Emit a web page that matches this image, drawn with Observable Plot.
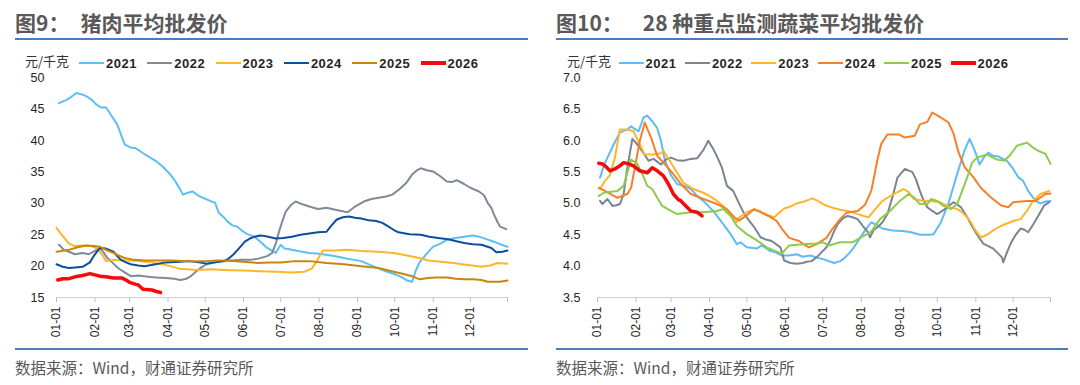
<!DOCTYPE html>
<html><head><meta charset="utf-8">
<script src="https://cdn.jsdelivr.net/npm/d3@7"></script>
<script src="https://cdn.jsdelivr.net/npm/@observablehq/plot@0.6"></script>
<style>
body{margin:0;background:#fff;width:1080px;height:385px;position:relative;overflow:hidden;font-family:"Noto Sans CJK SC","Noto Sans",sans-serif;}
.title{position:absolute;top:9px;font-size:21px;font-weight:bold;color:#595959;line-height:26px;white-space:nowrap;}
.rule{position:absolute;height:2px;background:#4a7ebb;}
.unit{position:absolute;top:52px;font-size:13px;color:#333;line-height:18px;white-space:nowrap;}
.leg{position:absolute;top:54px;height:18px;display:flex;align-items:center;font-family:"Liberation Sans",Arial,sans-serif;font-size:13px;font-weight:bold;color:#262626;letter-spacing:0.5px;white-space:nowrap;}
.sw{width:25px;margin-right:2px;}
.src{position:absolute;top:356px;font-size:15.5px;color:#595959;line-height:22px;white-space:nowrap;}
.chart{position:absolute;top:70px;}
</style></head><body>
<div class="title" style="left:15px"><span>图9：</span><span style="margin-left:11px">猪肉平均批发价</span></div>
<div class="rule" style="left:15px;top:38px;width:513px"></div>
<div class="title" style="left:556px"><span>图10：</span><span style="margin-left:20px">28 种重点监测蔬菜平均批发价</span></div>
<div class="rule" style="left:556px;top:38px;width:512px"></div>
<div class="unit" style="left:25px">元/千克</div>
<div class="unit" style="left:567px">元/千克</div>
<div id="legL"></div><div id="legR"></div>
<div class="chart" id="chartL" style="left:0px"></div>
<div class="chart" id="chartR" style="left:540px"></div>
<div class="rule" style="left:15px;top:348px;width:513px;height:1.5px"></div>
<div class="rule" style="left:556px;top:348px;width:512px;height:1.5px"></div>
<div class="src" style="left:15px">数据来源：Wind，财通证券研究所</div>
<div class="src" style="left:556px">数据来源：Wind，财通证券研究所</div>
<script>
// ---------- data ----------
const years = ["2021","2022","2023","2024","2025","2026"];
const tickDays = [0,31,59,90,120,151,181,212,243,273,304,334,364];
const tickLabels = ["01-01","02-01","03-01","04-01","05-01","06-01","07-01","08-01","09-01","10-01","11-01","12-01",""];
const porkTicks = [15,20,25,30,35,40,45,50];
const vegTicks = [3.5,4.0,4.5,5.0,5.5,6.0,6.5,7.0];
const porkColors = ["#5cbff6","#7f8b98","#fbb72a","#0d4e9e","#c8870c","#f50a0a"];
const vegColors = ["#5cbcf5","#7a8591","#fdb62c","#f67f2b","#8ecb4c","#f50a0a"];

// 猪肉平均批发价 [day of year, 元/千克]
const pork2021 = [[2,46.0],[8,46.5],[12,47.0],[16,47.6],[20,47.4],[24,47.1],[28,46.6],[32,45.8],[36,45.3],[40,45.3],[44,44.1],[49,42.6],[52,41.0],[55,39.4],[60,38.9],[64,38.8],[70,38.0],[74,37.5],[80,36.8],[85,36.0],[88,35.4],[92,34.6],[96,33.5],[100,32.2],[102,31.4],[106,31.7],[110,31.9],[114,31.3],[118,30.9],[124,30.4],[128,30.1],[131,28.5],[135,27.8],[138,27.1],[142,26.5],[146,26.3],[150,25.6],[154,25.1],[160,24.7],[165,23.8],[170,22.9],[177,22.1],[181,23.4],[184,22.8],[188,22.7],[195,22.4],[204,22.1],[210,22.0],[215,21.9],[224,21.6],[232,21.3],[240,21.0],[246,20.8],[253,20.2],[260,19.6],[267,19.1],[273,18.7],[279,18.2],[283,17.7],[287,17.5],[290,19.3],[293,20.6],[298,21.8],[304,23.1],[310,23.6],[315,24.2],[322,24.5],[329,24.7],[336,24.9],[341,24.7],[347,24.3],[353,23.9],[358,23.5],[364,23.1]];
const pork2022 = [[2,23.4],[6,22.6],[10,22.3],[15,21.9],[21,22.1],[26,21.9],[30,22.3],[35,22.9],[38,22.2],[41,21.3],[44,20.8],[48,20.0],[51,19.5],[55,19.0],[60,18.4],[66,18.5],[74,18.3],[80,18.2],[88,18.1],[95,18.0],[100,17.8],[105,18.0],[109,18.5],[113,19.2],[117,19.8],[121,20.3],[128,20.6],[135,20.8],[142,20.9],[149,21.0],[156,21.0],[163,21.2],[170,21.6],[174,22.1],[177,23.6],[179,25.1],[182,27.0],[185,28.7],[189,29.7],[193,30.3],[198,29.9],[204,29.5],[211,29.1],[218,29.3],[225,29.0],[232,28.7],[235,28.6],[241,29.5],[248,30.3],[254,30.7],[260,30.9],[266,31.1],[271,31.4],[277,32.3],[282,33.2],[287,34.6],[291,35.3],[294,35.6],[299,35.3],[304,35.1],[310,34.3],[315,33.5],[319,33.4],[323,33.7],[329,33.1],[334,32.5],[341,31.9],[345,31.3],[348,30.1],[351,29.3],[353,28.3],[356,27.0],[358,26.3],[363,25.9]];
const pork2023 = [[0,26.1],[3,25.3],[6,24.6],[10,23.6],[15,23.2],[21,23.3],[28,23.2],[33,22.8],[37,21.8],[40,20.8],[46,21.0],[56,20.9],[66,20.8],[76,20.6],[85,20.3],[92,20.0],[99,19.6],[113,19.4],[125,19.5],[135,19.4],[150,19.3],[163,19.2],[178,19.1],[190,19.0],[200,19.1],[206,19.6],[210,20.8],[215,22.5],[225,22.5],[235,22.6],[246,22.4],[260,22.3],[272,22.1],[283,21.7],[293,21.3],[300,20.9],[310,20.7],[320,20.5],[332,20.2],[343,19.9],[350,20.1],[356,20.5],[364,20.4]];
const pork2024 = [[0,20.3],[5,19.9],[10,19.7],[15,19.8],[21,19.9],[27,20.6],[30,21.6],[35,22.9],[40,22.8],[46,22.3],[49,21.6],[52,21.0],[56,20.6],[60,20.3],[66,20.1],[71,20.0],[80,20.3],[88,20.6],[100,20.7],[107,20.8],[115,20.6],[121,20.4],[128,20.6],[135,20.8],[139,21.2],[143,21.9],[148,23.0],[152,23.9],[156,24.4],[160,24.7],[164,24.9],[168,24.8],[177,24.4],[183,24.5],[190,24.7],[197,25.0],[204,25.2],[211,25.4],[218,25.5],[222,26.5],[226,27.4],[231,27.8],[236,27.9],[241,27.7],[246,27.6],[252,27.3],[258,27.2],[263,26.9],[268,26.3],[272,25.8],[276,25.4],[285,25.1],[294,25.0],[301,24.7],[308,24.5],[316,24.3],[322,24.0],[329,23.7],[336,23.5],[343,23.4],[351,22.9],[355,22.2],[360,22.3],[364,22.5]];
const pork2025 = [[0,22.3],[10,22.6],[17,23.0],[24,23.3],[30,23.2],[35,23.1],[40,22.6],[46,22.1],[50,21.7],[55,21.3],[63,21.0],[71,20.9],[82,20.9],[93,20.9],[107,20.8],[121,20.8],[130,20.9],[138,20.9],[150,20.7],[163,20.5],[172,20.6],[181,20.6],[192,20.8],[204,20.8],[218,20.5],[232,20.3],[246,20.0],[260,19.7],[268,19.3],[275,19.0],[281,18.7],[287,18.4],[293,17.9],[300,18.1],[306,18.2],[316,18.2],[322,18.0],[329,17.9],[336,17.9],[343,17.8],[348,17.5],[353,17.5],[358,17.5],[364,17.7]];
const pork2026 = [[1,17.8],[5,18.0],[10,18.0],[15,18.3],[21,18.5],[27,18.8],[31,18.6],[35,18.4],[40,18.3],[46,18.1],[53,18.1],[57,17.7],[59,17.4],[64,17.1],[66,17.0],[70,16.3],[77,16.2],[80,16.0],[84,15.8]];

// 28 种重点监测蔬菜平均批发价 [day of year, 元/千克]
const veg2021 = [[2,5.41],[5,5.6],[8,5.73],[13,5.94],[18,6.13],[24,6.18],[27,6.23],[29,6.2],[33,6.15],[37,6.37],[40,6.4],[44,6.31],[48,6.2],[51,6.0],[54,5.7],[59,5.45],[64,5.31],[70,5.28],[75,5.23],[80,5.12],[85,5.04],[93,4.88],[101,4.67],[107,4.51],[112,4.35],[115,4.38],[120,4.30],[128,4.28],[132,4.33],[138,4.25],[143,4.22],[148,4.17],[154,4.17],[160,4.19],[165,4.15],[171,4.17],[176,4.14],[183,4.10],[190,4.05],[195,4.08],[198,4.12],[202,4.2],[206,4.30],[211,4.45],[215,4.57],[220,4.70],[224,4.66],[229,4.60],[237,4.57],[245,4.56],[252,4.54],[259,4.50],[266,4.50],[270,4.51],[276,4.70],[282,5.0],[289,5.47],[295,5.85],[299,6.03],[303,5.85],[307,5.62],[311,5.75],[314,5.81],[318,5.76],[322,5.75],[329,5.68],[334,5.55],[338,5.42],[342,5.36],[346,5.20],[352,5.04],[356,5.00],[360,5.03],[364,5.04]];
const veg2022 = [[2,5.04],[4,4.99],[8,5.07],[12,4.96],[15,4.97],[18,4.99],[21,5.15],[24,5.57],[28,6.03],[32,5.94],[37,5.80],[41,5.68],[45,5.71],[51,5.62],[55,5.70],[59,5.73],[64,5.69],[69,5.68],[75,5.71],[80,5.72],[85,5.85],[89,6.0],[93,5.87],[96,5.75],[100,5.57],[104,5.28],[109,5.2],[114,4.99],[118,4.83],[122,4.72],[126,4.62],[131,4.46],[136,4.42],[140,4.40],[147,4.30],[150,4.09],[155,4.05],[160,4.04],[165,4.05],[168,4.07],[172,4.08],[176,4.14],[180,4.22],[184,4.30],[187,4.41],[190,4.55],[193,4.67],[197,4.76],[201,4.80],[205,4.78],[209,4.75],[214,4.62],[217,4.55],[219,4.46],[222,4.58],[225,4.62],[229,4.70],[233,4.83],[237,5.1],[241,5.41],[247,5.55],[253,5.50],[256,5.38],[259,5.20],[262,5.05],[265,4.94],[269,4.88],[273,4.83],[277,4.88],[281,4.94],[286,5.02],[292,4.94],[296,4.82],[300,4.67],[305,4.50],[310,4.36],[314,4.32],[318,4.28],[322,4.20],[325,4.14],[326,4.06],[329,4.22],[332,4.36],[336,4.50],[340,4.6],[343,4.58],[346,4.54],[350,4.66],[355,4.83],[359,4.97],[363,5.02]];
const veg2023 = [[2,5.23],[6,5.36],[10,5.45],[14,5.73],[18,6.18],[24,6.18],[29,6.15],[34,5.94],[38,5.78],[45,5.78],[51,5.80],[53,5.84],[58,5.68],[64,5.49],[69,5.33],[77,5.23],[85,5.17],[90,5.12],[96,5.04],[101,4.96],[107,4.83],[112,4.70],[114,4.78],[120,4.86],[125,4.90],[130,4.88],[136,4.82],[142,4.78],[146,4.85],[150,4.92],[155,4.95],[160,5.0],[166,5.03],[173,5.08],[178,5.03],[183,4.97],[189,4.93],[195,4.90],[203,4.87],[209,4.83],[214,4.80],[218,4.78],[222,4.88],[229,5.04],[238,5.15],[246,5.23],[250,5.18],[254,5.07],[262,5.04],[268,5.04],[275,5.02],[283,4.94],[289,4.91],[293,4.86],[297,4.78],[300,4.7],[303,4.59],[308,4.46],[313,4.5],[318,4.57],[324,4.64],[329,4.68],[334,4.72],[340,4.75],[345,4.88],[350,5.04],[356,5.15],[363,5.2]];
const veg2024 = [[1,5.25],[6,5.2],[16,5.09],[24,5.15],[27,5.25],[30,5.57],[34,6.0],[38,6.29],[43,6.05],[48,5.76],[53,5.65],[60,5.49],[67,5.31],[75,5.15],[85,5.07],[96,4.99],[104,4.91],[110,4.78],[114,4.73],[120,4.81],[126,4.91],[131,4.86],[139,4.78],[144,4.72],[148,4.6],[154,4.45],[162,4.40],[167,4.33],[170,4.30],[176,4.35],[184,4.45],[189,4.6],[195,4.75],[200,4.85],[209,4.88],[215,4.98],[220,5.2],[225,5.7],[228,5.95],[233,6.1],[242,6.1],[247,6.05],[255,6.08],[259,6.26],[265,6.3],[269,6.45],[275,6.38],[282,6.29],[286,6.12],[290,5.82],[295,5.58],[302,5.42],[308,5.25],[316,5.1],[324,4.97],[330,4.94],[334,5.02],[345,5.04],[352,5.04],[360,5.15],[364,5.16]];
const veg2025 = [[1,5.12],[5,5.17],[16,5.2],[21,5.28],[24,5.49],[27,5.7],[32,5.63],[36,5.47],[40,5.28],[44,5.23],[48,5.09],[52,4.96],[59,4.88],[64,4.83],[75,4.86],[85,4.86],[96,4.88],[101,4.91],[107,4.80],[112,4.64],[120,4.51],[128,4.41],[136,4.30],[143,4.24],[148,4.2],[154,4.33],[165,4.35],[176,4.36],[181,4.38],[186,4.33],[195,4.38],[205,4.38],[211,4.45],[220,4.55],[227,4.75],[235,4.88],[243,5.04],[250,5.15],[254,5.1],[259,4.99],[265,4.99],[268,5.07],[273,5.04],[278,4.96],[284,4.91],[289,4.99],[297,5.41],[301,5.65],[305,5.73],[313,5.78],[321,5.70],[327,5.68],[332,5.78],[337,5.92],[345,5.97],[350,5.89],[354,5.84],[360,5.79],[364,5.63]];
const veg2026 = [[1,5.64],[4,5.63],[6,5.6],[10,5.52],[14,5.55],[18,5.6],[21,5.65],[25,5.63],[29,5.6],[34,5.52],[40,5.49],[44,5.57],[48,5.52],[53,5.44],[57,5.31],[61,5.15],[65,5.06],[67,5.04],[71,4.96],[75,4.88],[80,4.86],[84,4.80]];

// ---------- drawing ----------
function legend(id, left, step, colors) {
  const box = document.getElementById(id);
  years.forEach((y, i) => {
    const d = document.createElement("div");
    d.className = "leg";
    d.style.left = (left + i * step) + "px";
    const sw = document.createElement("span");
    sw.className = "sw";
    sw.style.height = (i === 5 ? 4 : 2.5) + "px";
    sw.style.background = colors[i];
    d.appendChild(sw);
    d.appendChild(document.createTextNode(y));
    box.appendChild(d);
  });
}
legend("legL", 79, 68.3, porkColors);
legend("legR", 618.5, 66.4, vegColors);

function panel(series, colors, yTicks, yFmt, o) {
  return Plot.plot({
    width: o.width, height: 285,
    marginLeft: o.ml, marginRight: o.mr, marginTop: 7.5, marginBottom: 58,
    x: {domain: [0, 364]},
    y: {domain: [yTicks[0], yTicks[yTicks.length - 1]]},
    style: {fontFamily: "'Liberation Sans', Arial, sans-serif", fontSize: "12px", background: "#fff"},
    marks: [
      Plot.ruleY([yTicks[0]], {stroke: "#d0d0d0", strokeWidth: 1}),
      Plot.axisX({ticks: tickDays, tickFormat: d => tickLabels[tickDays.indexOf(d)], tickRotate: -90,
        tickSize: 5, tickPadding: 4, stroke: "#c0c0c0", fill: "#262626", fontSize: 12}),
      Plot.axisY({ticks: yTicks, tickFormat: yFmt, tickSize: 0, tickPadding: o.pad, fill: "#262626", fontSize: 12.5}),
      ...series.map((s, i) => Plot.line(s, {x: d => d[0], y: d => d[1], stroke: colors[i],
        strokeWidth: i === 5 ? 3.5 : 2, strokeLinejoin: "round"}))
    ]
  });
}
document.getElementById("chartL").appendChild(
  panel([pork2021, pork2022, pork2023, pork2024, pork2025, pork2026], porkColors, porkTicks, d3.format("d"),
    {width: 530, ml: 56, mr: 23, pad: 12}));
document.getElementById("chartR").appendChild(
  panel([veg2021, veg2022, veg2023, veg2024, veg2025, veg2026], vegColors, vegTicks, d3.format(".1f"),
    {width: 540, ml: 57, mr: 30, pad: 17}));
</script>
</body></html>
